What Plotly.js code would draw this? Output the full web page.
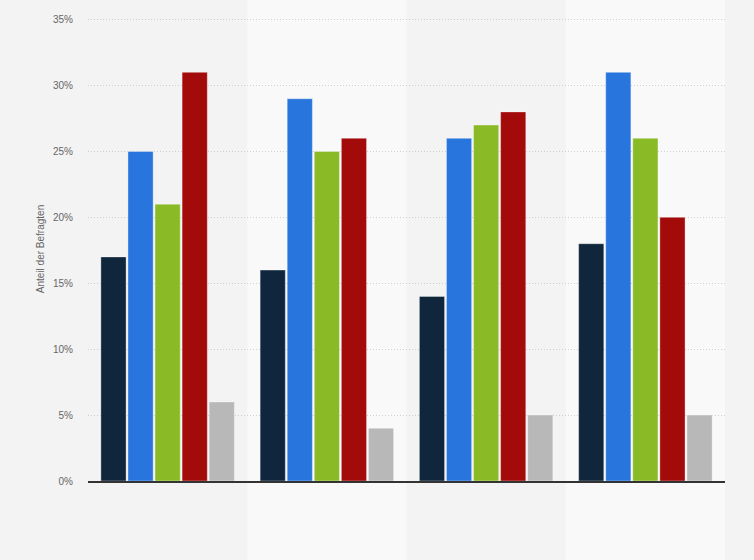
<!DOCTYPE html>
<html>
<head>
<meta charset="utf-8">
<script src="https://cdn.plot.ly/plotly-3.0.1.min.js"></script>
<style>
	html, body { margin: 0; padding: 0; background: #f4f4f4; }
	#chart { width: 754px; height: 560px; }
</style>
</head>
<body>
<div id="chart"></div>
<script>
const categories = ["1", "2", "3", "4"];
const seriesNames = ["Serie 1", "Serie 2", "Serie 3", "Serie 4", "Serie 5"];
const series1 = [17, 16, 14, 18];
const series2 = [25, 29, 26, 31];
const series3 = [21, 25, 27, 26];
const series4 = [31, 26, 28, 20];
const series5 = [6, 4, 5, 5];
const yTicks = [0, 5, 10, 15, 20, 25, 30, 35];

const colors = ["#10263d", "#2876dd", "#8aba26", "#a30a0a", "#b8b8b8"];
const allSeries = [series1, series2, series3, series4, series5];

const data = allSeries.map((values, i) => ({
	type: "bar",
	name: seriesNames[i],
	x: categories,
	y: values,
	marker: {
		color: colors[i],
		line: { color: "rgba(255,255,255,0.35)", width: 1 },
	},
	hoverinfo: "none",
}));

// lighter background bands behind every second group
const shapes = categories
	.map((c, i) => i)
	.filter(i => i % 2 === 1)
	.map(i => ({
		type: "rect",
		layer: "below",
		xref: "x",
		yref: "paper",
		x0: i - 0.5,
		x1: i + 0.5,
		y0: -1,
		y1: 2,
		fillcolor: "#f9f9f9",
		line: { width: 0 },
	}));

const layout = {
	width: 754,
	height: 560,
	margin: { l: 88, r: 29, t: 17, b: 79 },
	paper_bgcolor: "#f3f3f3",
	plot_bgcolor: "rgba(0,0,0,0)",
	showlegend: false,
	barmode: "group",
	bargap: 0.15,
	bargroupgap: 0.07,
	font: { family: "Arial, Liberation Sans, sans-serif", color: "#666", size: 10 },
	shapes,
	xaxis: {
		type: "category",
		showticklabels: false,
		showgrid: false,
		zeroline: false,
		showline: true,
		linecolor: "#333",
		linewidth: 1.5,
		ticks: "",
		fixedrange: true,
	},
	yaxis: {
		range: [0, 35.2],
		tickvals: yTicks,
		ticktext: yTicks.map(t => `${t}%`),
		showgrid: true,
		gridcolor: "#cfcfcf",
		griddash: "1px,2px",
		gridwidth: 1,
		zeroline: false,
		showline: false,
		ticks: "",
		ticklabelstandoff: 14,
		tickfont: { size: 10, color: "#666" },
		title: { text: "Anteil der Befragten", font: { size: 10, color: "#666" }, standoff: 6 },
		fixedrange: true,
	},
};

Plotly.newPlot("chart", data, layout, { displayModeBar: false, staticPlot: true });
</script>
</body>
</html>
